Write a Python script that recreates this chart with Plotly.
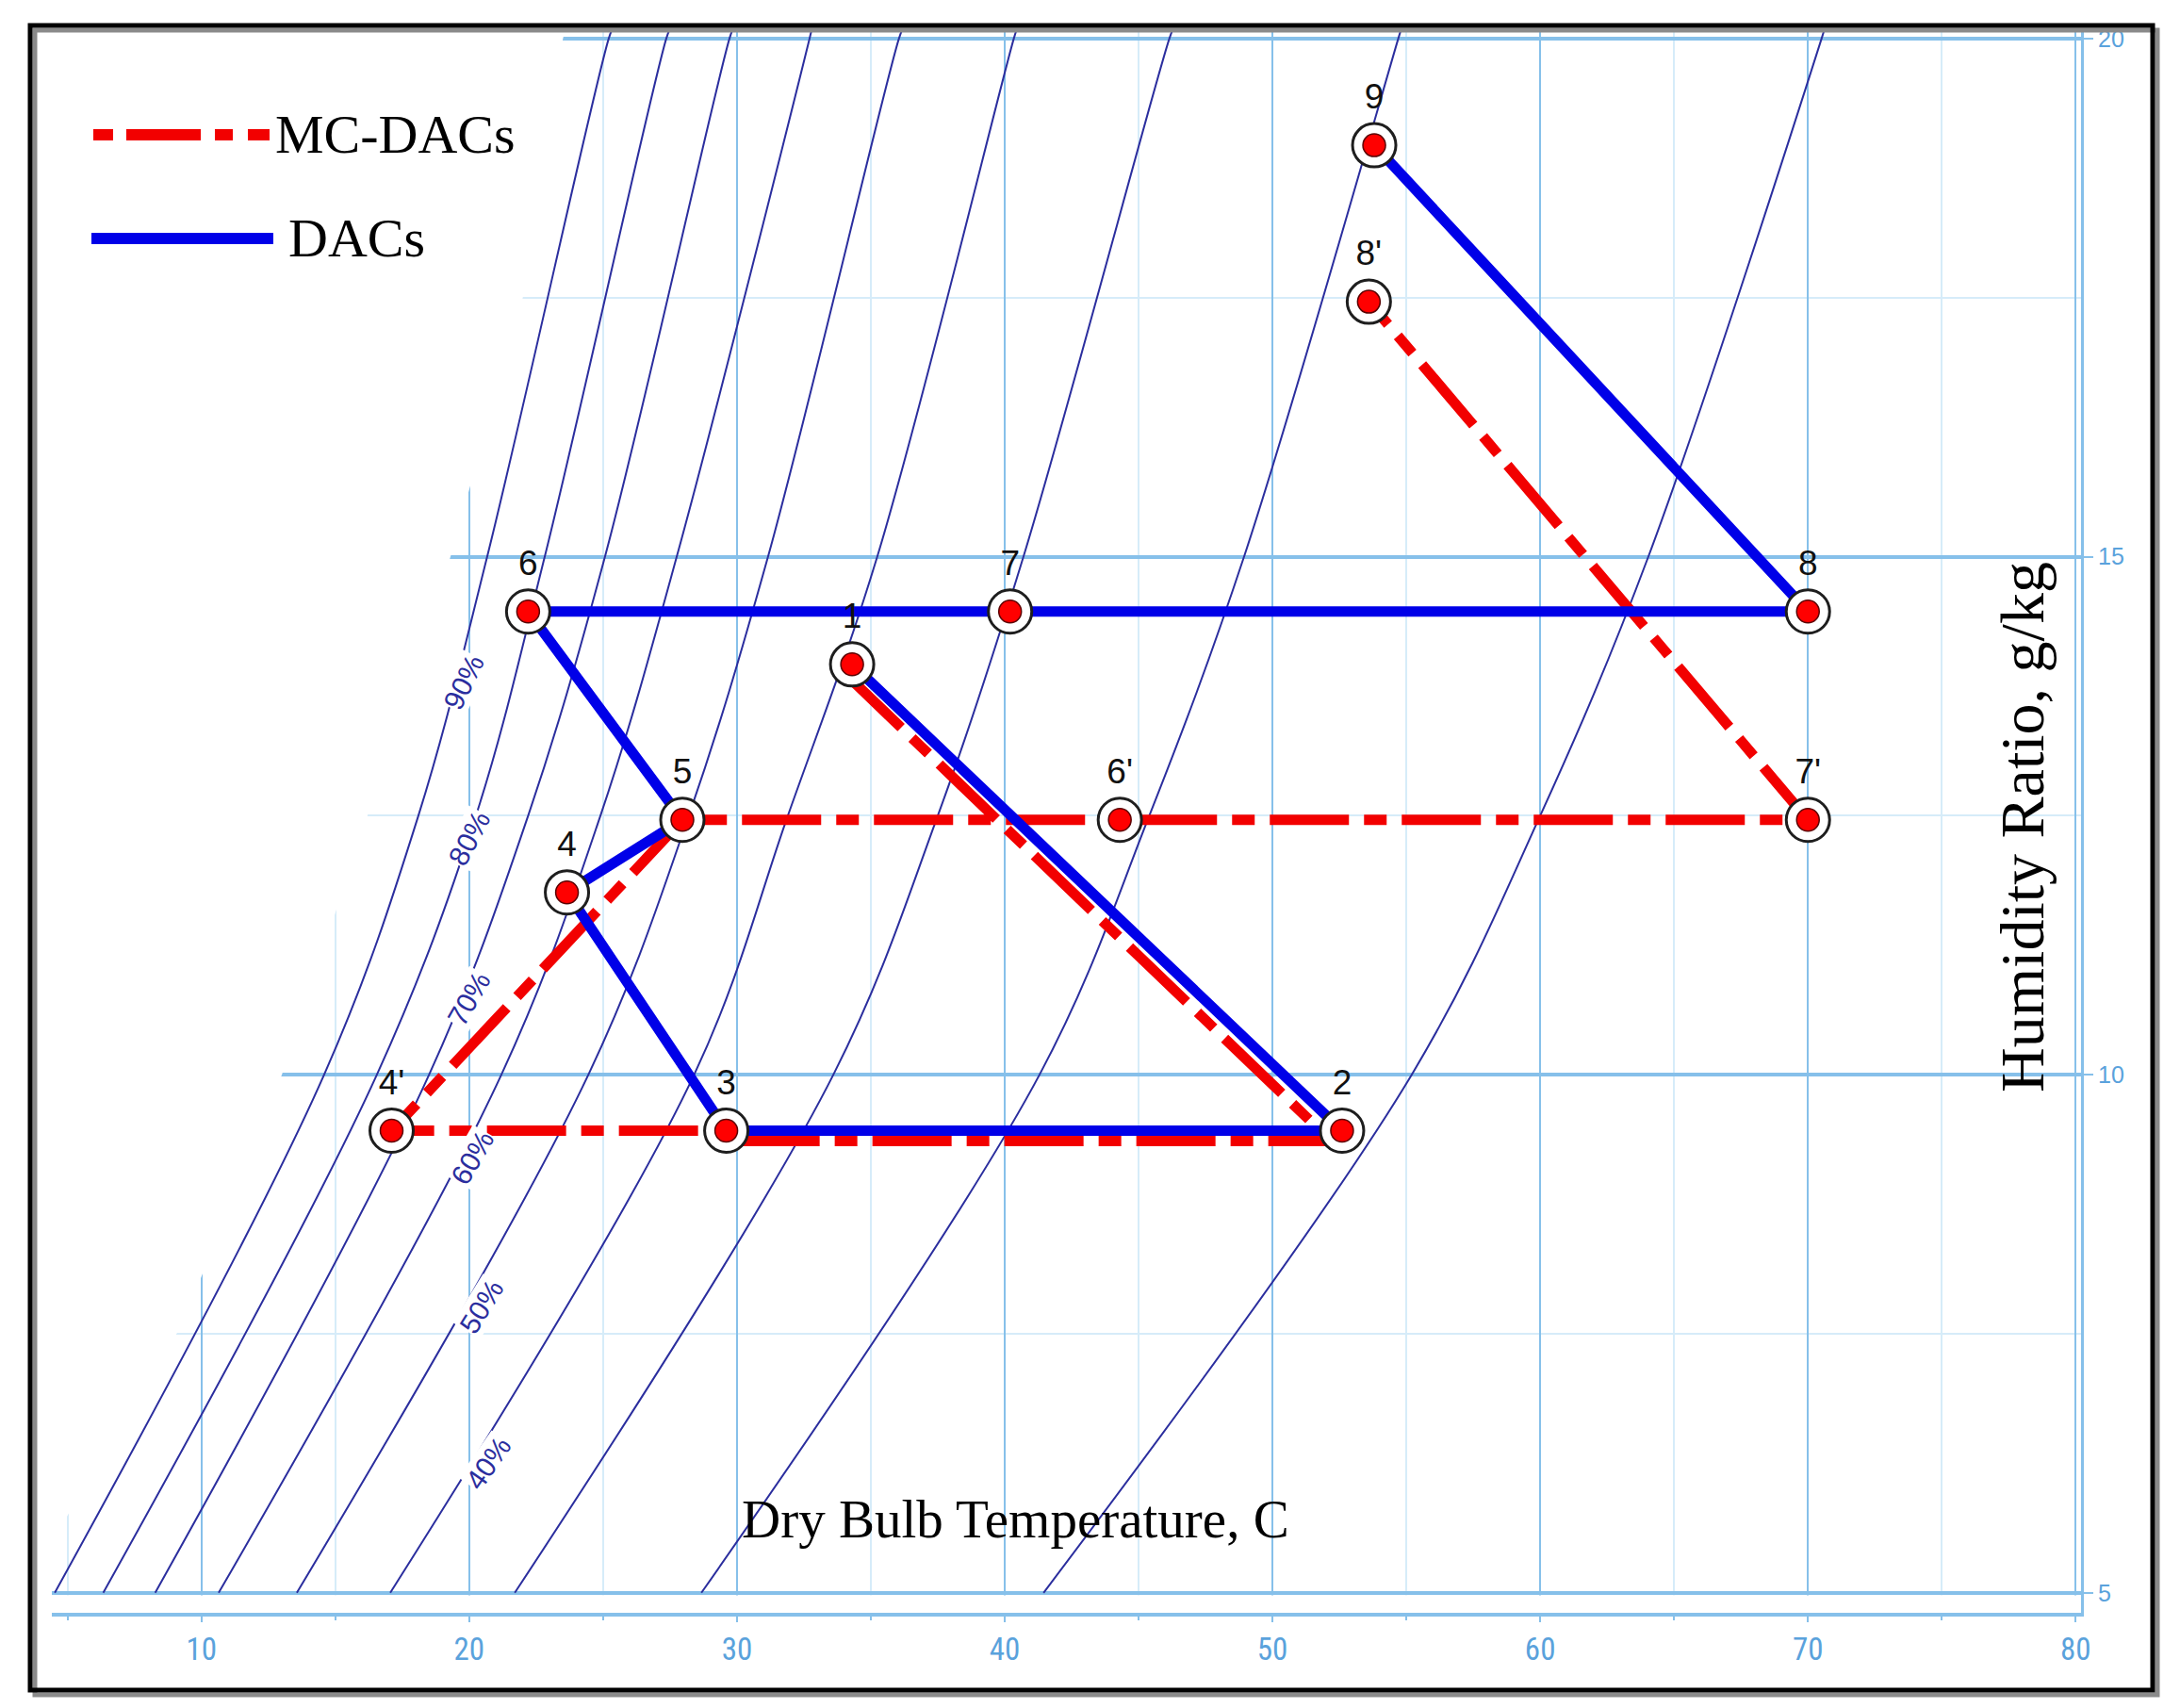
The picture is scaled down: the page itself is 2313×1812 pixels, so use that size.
import plotly.graph_objects as go

# ---------------- data ----------------
# state points (dry-bulb °C, humidity ratio g/kg)
point_names = ["1", "2", "3", "4", "4'", "5", "6", "7", "8", "9", "6'", "7'", "8'"]
point_T = [34.3, 52.6, 29.6, 23.65, 17.1, 27.96, 22.2, 40.2, 70.0, 53.8, 44.3, 70.0, 53.6]
point_W = [13.96, 9.46, 9.46, 11.76, 9.46, 12.46, 14.47, 14.47, 14.47, 18.97, 12.46, 12.46, 17.46]

# DACs cycle path 1-2-3-4-5-6-7-8-9
dacs_T = [34.3, 52.6, 29.6, 23.65, 27.96, 22.2, 40.2, 70.0, 53.8]
dacs_W = [13.96, 9.46, 9.46, 11.76, 12.46, 14.47, 14.47, 14.47, 18.97]

# MC-DACs cycle path 1-2-3-4'-5-6'-7'-8' (drawn slightly offset near 1-2-3)
mc_T = [34.0, 52.2, 29.6, 29.6, 17.1, 27.96, 44.3, 70.0, 53.6]
mc_W = [13.88, 9.36, 9.36, 9.46, 9.46, 12.46, 12.46, 12.46, 17.46]

# relative-humidity curves: dry-bulb where each crosses these humidity ratios
rh_W = [5, 10, 12.5, 15, 20, 20.12]
rh90_T = [4.52, 14.58, 18.10, 20.67, 25.21, 25.39]
rh80_T = [6.33, 16.55, 20.25, 22.82, 27.36, 27.54]
rh70_T = [8.27, 18.50, 22.20, 25.07, 29.72, 29.89]
rh60_T = [10.64, 21.20, 24.90, 27.75, 32.71, 32.82]
rh50_T = [13.56, 24.45, 28.20, 31.16, 36.05, 36.23]
rh40_T = [17.05, 28.40, 31.90, 35.24, 40.34, 40.49]
rh30_T = [21.70, 33.60, 37.50, 40.70, 46.15, 46.33]
rh20_T = [28.67, 41.30, 45.40, 48.94, 54.70, 54.84]
rh10_T = [41.45, 55.20, 60.00, 64.04, 70.51, 70.65]

rh_label_text = ["90%", "80%", "70%", "60%", "50%", "40%"]
rh_label_T = [19.8, 20.0, 20.0, 20.1, 20.45, 20.7]
rh_label_W = [13.79, 12.28, 10.73, 9.2, 7.76, 6.25]

# saturation boundary (left edge of the grid)
sat_T = [2.8, 9.3, 13.0, 16.2, 19.3, 22.0, 23.5, 23.7]
sat_W = [4.8, 7.6, 10.0, 12.5, 15.0, 17.5, 20.0, 20.2]

x_ticks = [10, 20, 30, 40, 50, 60, 70, 80]
y_ticks = [5, 10, 15, 20]

# ---------------- styling ----------------
OFF = 8                      # page body margin
W, H = 2313 - 2 * OFF, 1812 - 2 * OFF
ML, MR, MT, MB = 47, 97, 23, 93
PW, PH = W - ML - MR, H - MT - MB
XR = [4.41, 80.2]
YR = [4.807, 20.09]

SERIF = "Liberation Serif, Times New Roman, serif"
SANS = "Liberation Sans, Arial, sans-serif"
NARROW = "Liberation Sans Narrow, Arial Narrow, Roboto Condensed, Liberation Sans, Arial, sans-serif"
NAVY = "#2b2e9e"
AXBLUE = "#86c0ea"
LABBLUE = "#5aa2dc"
MINOR = "#d6ecf9"
RED = "#f20000"
BLUE = "#0000e8"
RED_DASH = "84px,16px,24px,16px"


def px_x(px):
    return (px - OFF - ML) / PW


def px_y(py):
    return (H - MB - (py - OFF)) / PH


fig = go.Figure()

# white mask over the region beyond saturation (hides the grid there)
fig.add_trace(go.Scatter(
    x=sat_T + [sat_T[-1], XR[0] - 5, XR[0] - 5],
    y=sat_W + [YR[1] + 1, YR[1] + 1, sat_W[0]],
    fill="toself", fillcolor="white", mode="lines", line=dict(width=0),
    hoverinfo="skip", showlegend=False))
# white strip between the 5 g/kg line and the temperature axis
fig.add_trace(go.Scatter(
    x=[XR[0], XR[1], XR[1], XR[0]], y=[YR[0], YR[0], 4.975, 4.975],
    fill="toself", fillcolor="white", mode="lines", line=dict(width=0),
    hoverinfo="skip", showlegend=False))

for t in [rh90_T, rh80_T, rh70_T, rh60_T, rh50_T, rh40_T, rh30_T, rh20_T, rh10_T]:
    fig.add_trace(go.Scatter(
        x=t, y=rh_W, mode="lines",
        line=dict(color=NAVY, width=2, shape="spline", smoothing=1.0),
        hoverinfo="skip", showlegend=False))

fig.add_trace(go.Scatter(
    x=mc_T, y=mc_W, mode="lines", name="MC-DACs",
    line=dict(color=RED, width=11, dash=RED_DASH), showlegend=False))
fig.add_trace(go.Scatter(
    x=dacs_T, y=dacs_W, mode="lines", name="DACs",
    line=dict(color=BLUE, width=11), showlegend=False))

fig.add_trace(go.Scatter(
    x=point_T, y=point_W, mode="markers+text", text=point_names,
    textposition="top center",
    textfont=dict(family=SANS, size=37, color="#111111"),
    marker=dict(size=46, color="white", line=dict(color="#1e1e1e", width=3)),
    hoverinfo="skip", showlegend=False))
fig.add_trace(go.Scatter(
    x=point_T, y=point_W, mode="markers",
    marker=dict(size=24, color="#ff0000", line=dict(color="#5a0000", width=1.5)),
    hoverinfo="skip", showlegend=False))

annotations = []
angles = [-64, -62, -60, -60, -58, -55]
for txt, tx, wy, ang in zip(rh_label_text, rh_label_T, rh_label_W, angles):
    annotations.append(dict(
        x=tx, y=wy, xref="x", yref="y", text=txt, showarrow=False,
        textangle=ang, font=dict(family=SANS, size=30, color=NAVY),
        bgcolor="white", borderpad=0))

annotations.append(dict(
    x=40.42, y=5.71, xref="x", yref="y", text="Dry Bulb Temperature, C",
    showarrow=False, font=dict(family=SERIF, size=57, color="black")))
annotations.append(dict(
    x=78.0, y=12.39, xref="x", yref="y", text="Humidity Ratio, g/kg",
    showarrow=False, textangle=-90, font=dict(family=SERIF, size=66, color="black")))

# legend (drawn by hand)
annotations.append(dict(
    x=px_x(290), y=px_y(143), xref="paper", yref="paper", text="MC-DACs",
    xanchor="left", yanchor="middle", showarrow=False,
    font=dict(family=SERIF, size=58, color="black")))
annotations.append(dict(
    x=px_x(304), y=px_y(253), xref="paper", yref="paper", text="DACs",
    xanchor="left", yanchor="middle", showarrow=False,
    font=dict(family=SERIF, size=58, color="black")))

shapes = [
    dict(type="line", xref="paper", yref="paper",
         x0=px_x(99), x1=px_x(288), y0=px_y(143), y1=px_y(143),
         line=dict(color=RED, width=12, dash="21px,14px,79px,15px,19px,16px,23px,20px")),
    dict(type="line", xref="paper", yref="paper",
         x0=px_x(97), x1=px_x(290), y0=px_y(253), y1=px_y(253),
         line=dict(color=BLUE, width=12)),
    # frame with shadow
    dict(type="rect", xref="paper", yref="paper",
         x0=px_x(37), x1=px_x(2289), y0=px_y(1798), y1=px_y(32),
         line=dict(color="#8a8a8a", width=5), layer="above"),
    dict(type="rect", xref="paper", yref="paper",
         x0=px_x(32), x1=px_x(2284), y0=px_y(1793), y1=px_y(27),
         line=dict(color="black", width=5), layer="above"),
]

fig.update_layout(
    width=W, height=H, autosize=False,
    margin=dict(l=ML, r=MR, t=MT, b=MB, pad=0),
    paper_bgcolor="white", plot_bgcolor="white",
    showlegend=False,
    annotations=annotations, shapes=shapes,
    xaxis=dict(
        range=XR, tickvals=x_ticks, showgrid=True, gridcolor=AXBLUE, gridwidth=2,
        zeroline=False, showline=True, linecolor=AXBLUE, linewidth=4,
        ticks="outside", ticklen=6, tickwidth=2, tickcolor=AXBLUE,
        tickfont=dict(family=NARROW, size=33, color=LABBLUE),
        minor=dict(dtick=5, tick0=0, showgrid=True, gridcolor=MINOR, gridwidth=1.5,
                   ticks="outside", ticklen=4, tickcolor=AXBLUE),
    ),
    yaxis=dict(
        range=YR, tickvals=y_ticks, side="right", showgrid=True, gridcolor=AXBLUE,
        gridwidth=3.5, zeroline=False, showline=True, linecolor=AXBLUE, linewidth=3,
        ticks="outside", ticklen=10, tickwidth=2, tickcolor=AXBLUE,
        tickfont=dict(family=SANS, size=25, color=LABBLUE),
        minor=dict(dtick=2.5, tick0=0, showgrid=True, gridcolor=MINOR, gridwidth=2),
    ),
)

fig.write_html("out.html")
